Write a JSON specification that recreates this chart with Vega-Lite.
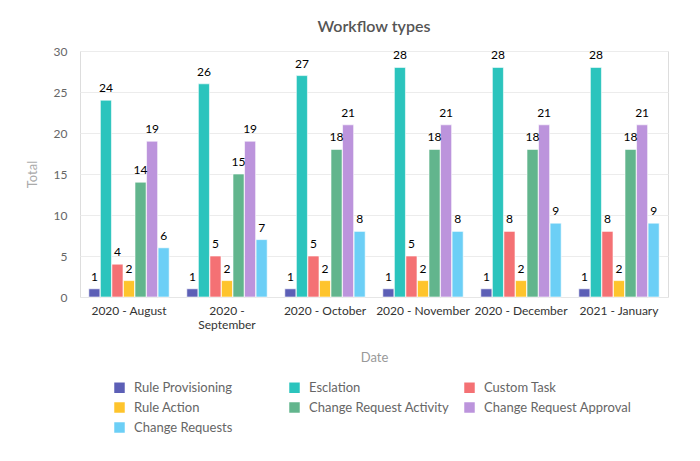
{
  "$schema": "https://vega.github.io/schema/vega-lite/v6.json",
  "width": 588,
  "height": 246,
  "autosize": {"type": "none"},
  "padding": {"left": 80, "top": 51, "right": 32, "bottom": 164},
  "background": "white",
  "title": {"text": "Workflow types", "fontSize": 16, "fontWeight": 600, "color": "#555555", "font": "Lato", "offset": 10, "anchor": "middle"},
  "data": {"values": [
    {"date": "2020 - August", "type": "Rule Provisioning", "total": 1},
    {"date": "2020 - August", "type": "Esclation", "total": 24},
    {"date": "2020 - August", "type": "Custom Task", "total": 4},
    {"date": "2020 - August", "type": "Rule Action", "total": 2},
    {"date": "2020 - August", "type": "Change Request Activity", "total": 14},
    {"date": "2020 - August", "type": "Change Request Approval", "total": 19},
    {"date": "2020 - August", "type": "Change Requests", "total": 6},
    {"date": "2020 - September", "type": "Rule Provisioning", "total": 1},
    {"date": "2020 - September", "type": "Esclation", "total": 26},
    {"date": "2020 - September", "type": "Custom Task", "total": 5},
    {"date": "2020 - September", "type": "Rule Action", "total": 2},
    {"date": "2020 - September", "type": "Change Request Activity", "total": 15},
    {"date": "2020 - September", "type": "Change Request Approval", "total": 19},
    {"date": "2020 - September", "type": "Change Requests", "total": 7},
    {"date": "2020 - October", "type": "Rule Provisioning", "total": 1},
    {"date": "2020 - October", "type": "Esclation", "total": 27},
    {"date": "2020 - October", "type": "Custom Task", "total": 5},
    {"date": "2020 - October", "type": "Rule Action", "total": 2},
    {"date": "2020 - October", "type": "Change Request Activity", "total": 18},
    {"date": "2020 - October", "type": "Change Request Approval", "total": 21},
    {"date": "2020 - October", "type": "Change Requests", "total": 8},
    {"date": "2020 - November", "type": "Rule Provisioning", "total": 1},
    {"date": "2020 - November", "type": "Esclation", "total": 28},
    {"date": "2020 - November", "type": "Custom Task", "total": 5},
    {"date": "2020 - November", "type": "Rule Action", "total": 2},
    {"date": "2020 - November", "type": "Change Request Activity", "total": 18},
    {"date": "2020 - November", "type": "Change Request Approval", "total": 21},
    {"date": "2020 - November", "type": "Change Requests", "total": 8},
    {"date": "2020 - December", "type": "Rule Provisioning", "total": 1},
    {"date": "2020 - December", "type": "Esclation", "total": 28},
    {"date": "2020 - December", "type": "Custom Task", "total": 8},
    {"date": "2020 - December", "type": "Rule Action", "total": 2},
    {"date": "2020 - December", "type": "Change Request Activity", "total": 18},
    {"date": "2020 - December", "type": "Change Request Approval", "total": 21},
    {"date": "2020 - December", "type": "Change Requests", "total": 9},
    {"date": "2021 - January", "type": "Rule Provisioning", "total": 1},
    {"date": "2021 - January", "type": "Esclation", "total": 28},
    {"date": "2021 - January", "type": "Custom Task", "total": 8},
    {"date": "2021 - January", "type": "Rule Action", "total": 2},
    {"date": "2021 - January", "type": "Change Request Activity", "total": 18},
    {"date": "2021 - January", "type": "Change Request Approval", "total": 21},
    {"date": "2021 - January", "type": "Change Requests", "total": 9}
  ]},
  "encoding": {
    "x": {
      "field": "date", "type": "nominal", "sort": null,
      "scale": {"paddingInner": 0.18, "paddingOuter": 0.09},
      "axis": {
        "title": "Date", "labelAngle": 0, "labelFont": "Lato", "labelFontSize": 12, "labelColor": "#333333",
        "labelExpr": "datum.label == '2020 - September' ? ['2020 -', 'September'] : datum.label",
        "labelPadding": 8, "ticks": false, "domain": true, "domainColor": "#e6e6e6",
        "titleFont": "Lato", "titleFontSize": 13, "titleFontWeight": "normal", "titleColor": "#999999", "titlePadding": 21
      }
    },
    "xOffset": {"field": "type", "type": "nominal", "sort": null, "scale": {"paddingInner": 0.04}},
    "y": {
      "field": "total", "type": "quantitative",
      "scale": {"domain": [0, 30], "nice": false},
      "axis": {
        "title": "Total", "values": [0, 5, 10, 15, 20, 25, 30], "labelOverlap": false, "labelFont": "Lato", "labelFontSize": 12, "labelColor": "#666666",
        "labelPadding": 13, "ticks": false, "domain": false, "grid": true, "gridColor": "#ececec",
        "titleFont": "Lato", "titleFontSize": 13, "titleFontWeight": "normal", "titleColor": "#aaaaaa", "titlePadding": 14
      }
    }
  },
  "layer": [
    {
      "mark": {"type": "bar", "stroke": "white", "strokeWidth": 1, "strokeOpacity": 0.6},
      "encoding": {
        "color": {
          "field": "type", "type": "nominal", "sort": null,
          "scale": {
            "domain": ["Rule Provisioning", "Esclation", "Custom Task", "Rule Action", "Change Request Activity", "Change Request Approval", "Change Requests"],
            "range": ["#5c5fb6", "#2bc4bd", "#f47174", "#fec42c", "#62b58d", "#bc94dc", "#6ccff6"]
          },
          "legend": {
            "title": null, "orient": "none", "legendX": 33, "legendY": 330, "columns": 3, "direction": "horizontal",
            "symbolType": "square", "symbolSize": 110, "symbolStrokeWidth": 0, "symbolOpacity": 1,
            "labelFont": "Lato", "labelFontSize": 13, "labelColor": "#666666", "labelOffset": 8,
            "columnPadding": 6, "rowPadding": 6, "gridAlign": "all", "padding": 0
          }
        }
      }
    },
    {
      "mark": {"type": "text", "baseline": "bottom", "dy": -5, "font": "Lato", "fontSize": 12, "fontWeight": "normal", "color": "#000000"},
      "encoding": {"text": {"field": "total", "type": "quantitative"}}
    }
  ]
}
